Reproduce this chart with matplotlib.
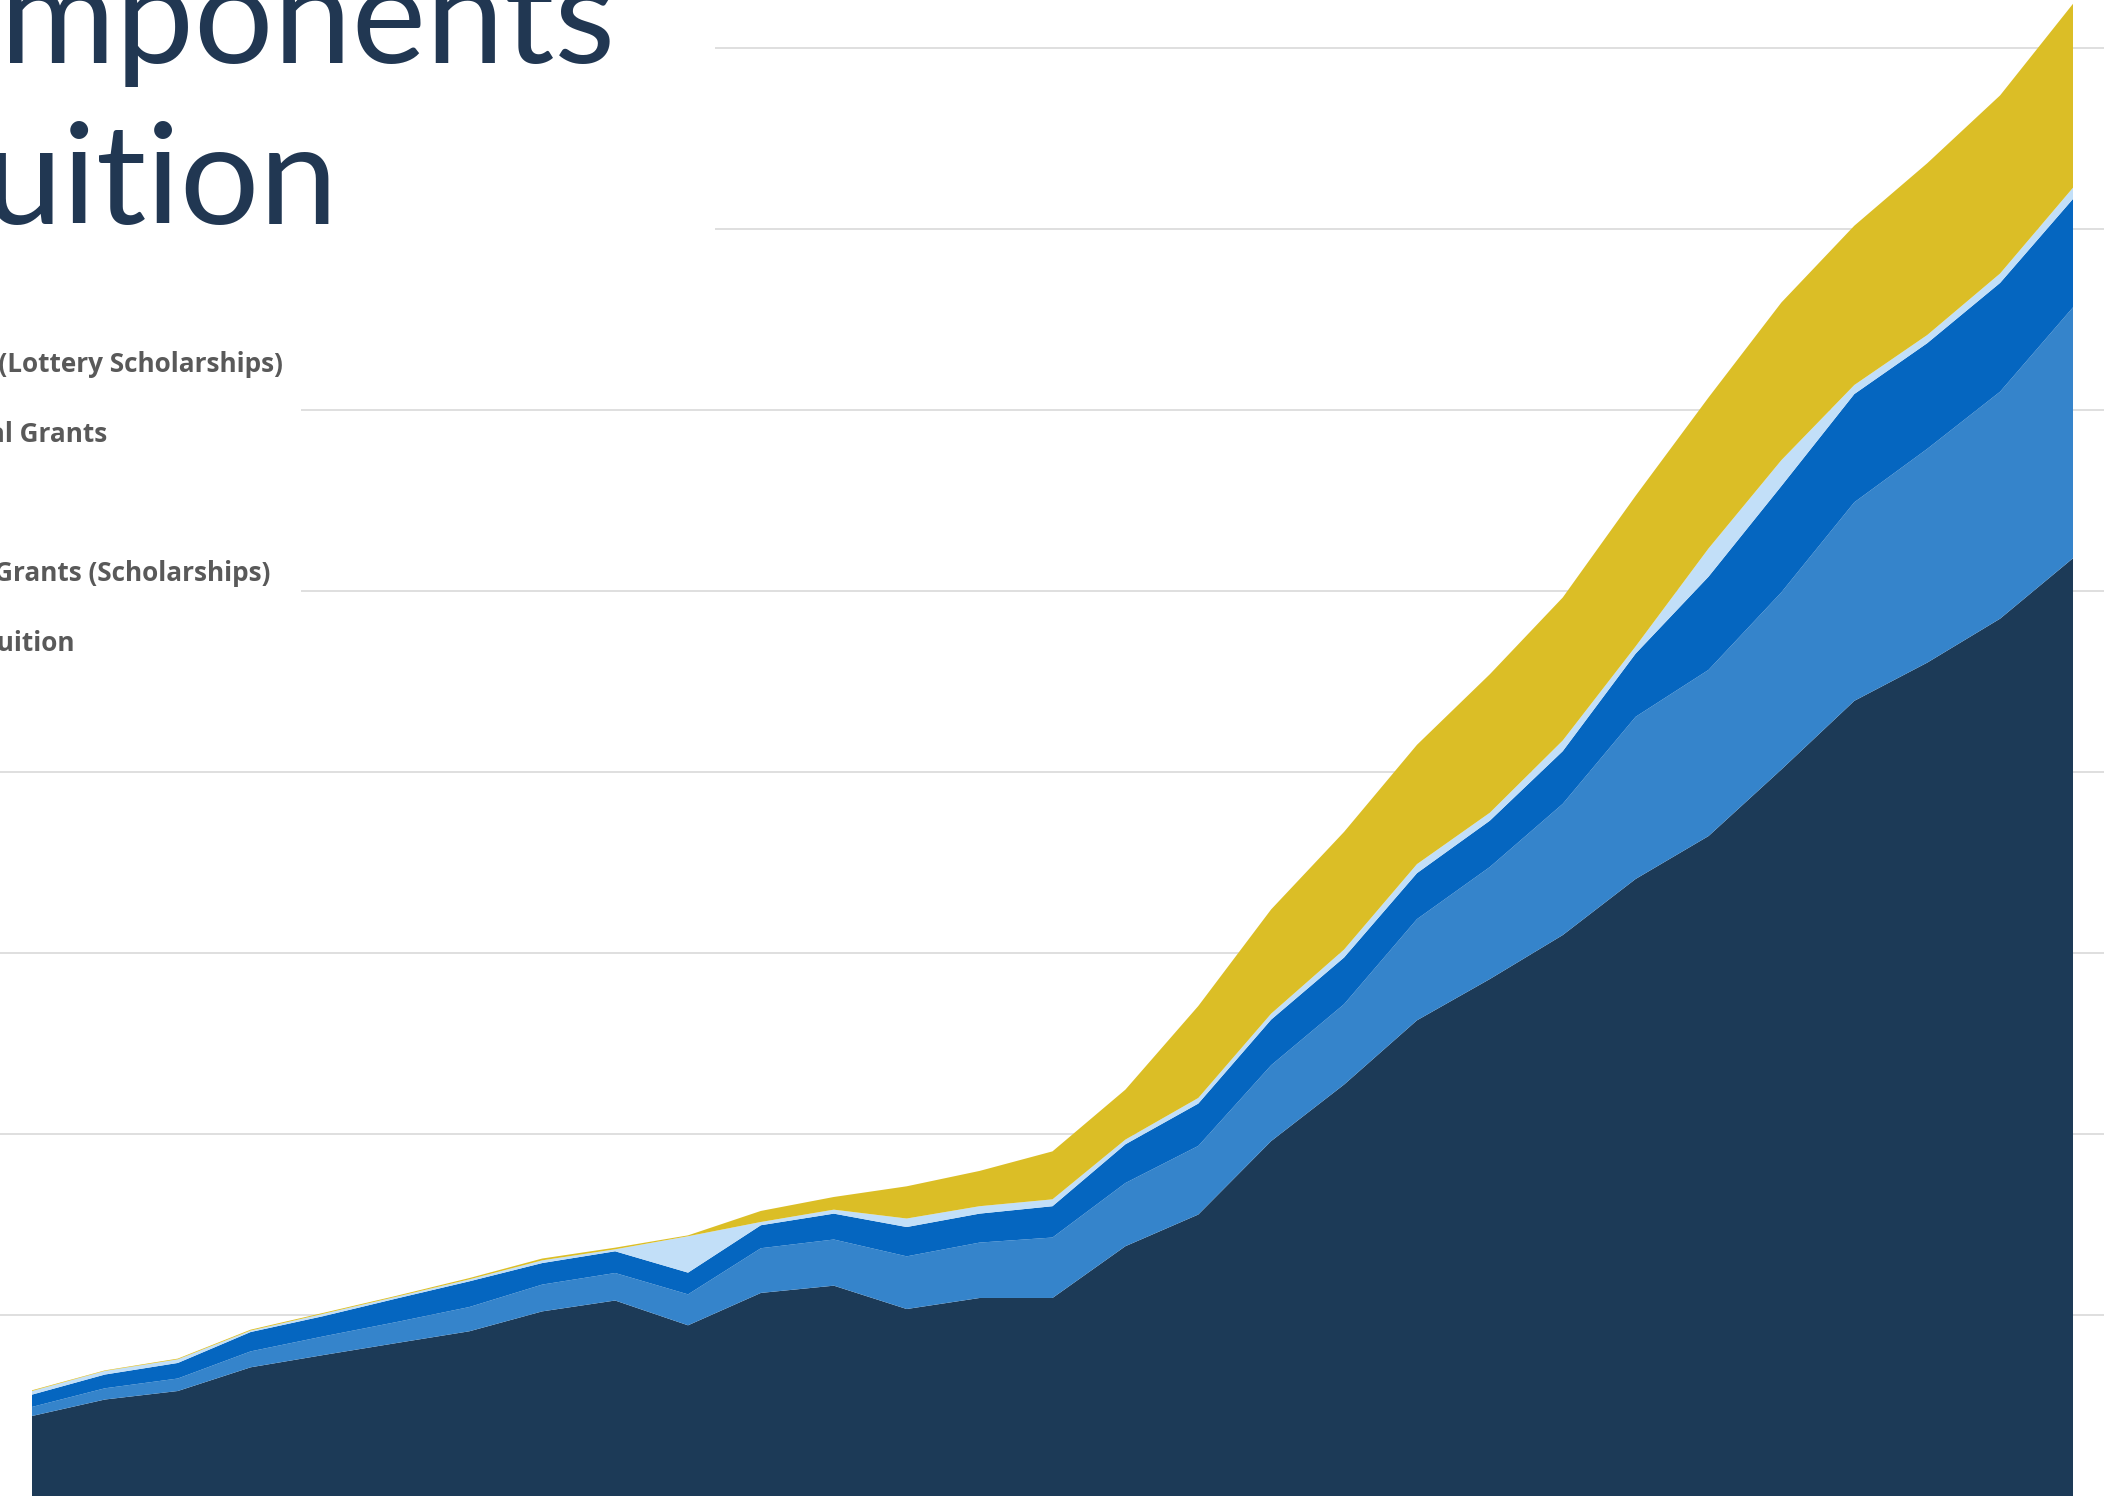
import numpy as np
import matplotlib.pyplot as plt
from matplotlib.patches import Rectangle


# per-student revenue by component, stacked bottom to top
years = list(range(1990, 2019))

tuition = [442, 533, 580, 711, 779, 845, 910, 1020, 1080, 943,
           1122, 1162, 1033, 1094, 1094, 1380, 1555, 1961, 2273, 2628,
           2856, 3099, 3409, 3646, 4014, 4393, 4604, 4847, 5181]
institutional = [50, 62, 69, 88, 103, 116, 134, 148, 152, 171,
                 247, 255, 291, 306, 334, 349, 379, 419, 444, 559,
                 619, 725, 896, 918, 979, 1097, 1181, 1254, 1386]
other = [68, 76, 86, 107, 112, 130, 142, 119, 120, 120,
         127, 143, 162, 160, 173, 214, 234, 252, 258, 254,
         256, 291, 349, 515, 587, 598, 584, 601, 599]
federal = [20, 20, 20, 8, 13, 10, 11, 15, 11, 201,
           18, 22, 47, 41, 38, 26, 31, 33, 44, 50,
           44, 59, 40, 156, 143, 50, 45, 52, 62]
lottery = [4, 3, 4, 5, 5, 5, 7, 10, 9, 5,
           61, 70, 178, 195, 265, 276, 508, 576, 650, 659,
           765, 790, 832, 834, 871, 880, 949, 984, 1016]

labels = ['Net Tuition', 'Institutional Grants (Scholarships)', 'Other',
          'Federal Grants', 'State Grants (Lottery Scholarships)']
colors = ['#1C3A57', '#3584CB', '#0566C0', '#C2DFF8', '#DBBE26']

grid_ticks = list(range(1000, 9000, 1000))


#==============================================================================
W, H = 2104, 1496
fig = plt.figure(figsize=(W / 100, H / 100), dpi=100)
ax = fig.add_axes([0, 0, 1, 1])

ax.stackplot(years, tuition, institutional, other, federal, lottery,
             colors=colors, linewidth=0, zorder=2)

# one year step is ~72.9 px on this canvas
step = (years[-1] - years[0]) / 2041
ax.set_xlim(years[0] - 32 * step, years[-1] + 31 * step)
ax.set_ylim(0, 8265)

ax.set_yticks(grid_ticks)
ax.set_xticks([])
ax.tick_params(length=0, labelleft=False, labelbottom=False)
ax.grid(axis='y', color='#D9D9D9', linewidth=1.2)
ax.set_axisbelow(True)
for sp in ax.spines.values():
    sp.set_visible(False)

# white panels behind the heading and the key
ax.add_patch(Rectangle((0, (H - 300) / H), 715 / W, 300 / H,
                       transform=ax.transAxes, facecolor='white',
                       edgecolor='none', zorder=1))
ax.add_patch(Rectangle((0, (H - 700) / H), 301 / W, 400 / H,
                       transform=ax.transAxes, facecolor='white',
                       edgecolor='none', zorder=1))

# heading
title_kw = dict(ha='right', va='baseline', color='#213752',
                family=['Lato', 'DejaVu Sans'], fontsize=101)
fig.text(615 / W, (H - 63) / H, 'Revenue Components', **title_kw)
fig.text(338 / W, (H - 224) / H, 'of Tuition', **title_kw)

# key, top entry = top of the stack
key_kw = dict(ha='right', va='baseline', color='#595959',
              family=['Open Sans', 'DejaVu Sans'], fontsize=18.8,
              fontweight='bold')
key_right = [283, 107, -20, 270, 74]
key_base = [372, 442, 512, 581, 651]
for lab, xr, yb in zip(labels[::-1], key_right, key_base):
    fig.text(xr / W, (H - yb) / H, lab, **key_kw)

fig.savefig('out.png', dpi=100, facecolor='white')
plt.close(fig)
